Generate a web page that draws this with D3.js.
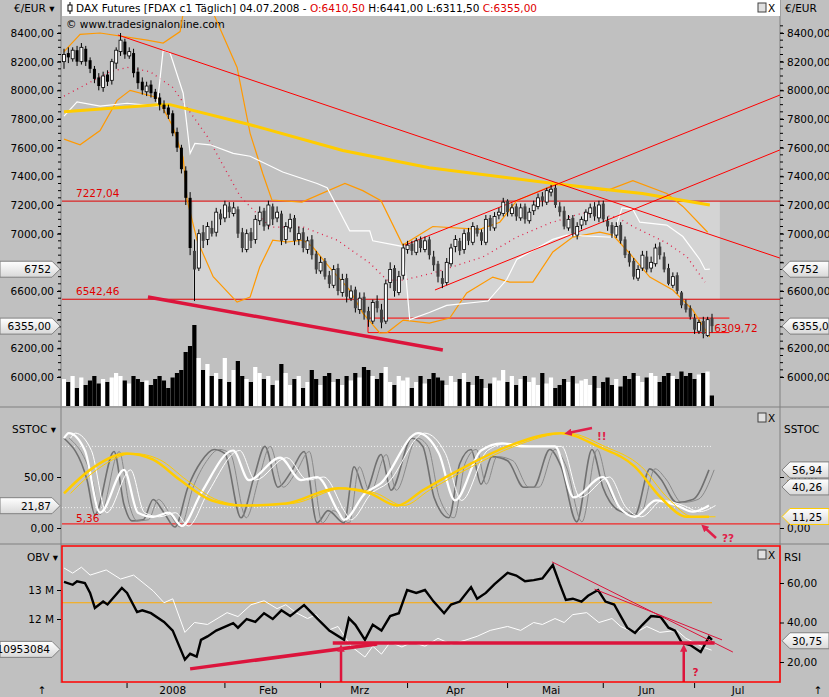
<!DOCTYPE html>
<html><head><meta charset="utf-8">
<script src="https://cdn.jsdelivr.net/npm/d3@7"></script>
<style>body{margin:0;background:#c0c0c0}svg{display:block}text{font-family:"DejaVu Sans",sans-serif;font-size:10.5px}</style>
</head><body><svg width="829" height="697"></svg>
<script>
// ---- data ----
var opens = [8200,8260,8220,8280,8200,8290,8210,8150,8090,8020, 8110,8070,8190,8270,8340,8240,8260,8130,8060,7990,
  8040,7990,7950,7900,7880,7840,7710,7600,7440,7250, 6880,6760,7010,6960,7040,7010,7140,7110,7190,7140,
  7170,7010,6890,7010,6960,7090,7160,7060,7190,7110, 7140,6960,7040,7110,6960,7010,6890,6960,6860,6740,
  6810,6710,6640,6760,6590,6690,6550,6610,6470,6560, 6460,6390,6530,6470,6390,6660,6760,6590,6710,6890,
  6930,6870,6960,6890,6960,6840,6790,6690,6660,6790, 6910,6950,6890,7010,6940,7040,7010,6940,7110,7040,
  7130,7140,7230,7140,7190,7110,7190,7090,7160,7190, 7260,7220,7290,7320,7190,7160,7040,7110,6990,7060,
  7090,7140,7190,7110,7210,7090,7060,6990,7060,6960, 6860,6810,6690,6760,6840,6760,6790,6910,6840,6760,
  6640,6710,6590,6510,6480,6410,6320,6390,6290,6410.5];
var highs = [8290,8300,8300,8310,8330,8310,8230,8170,8120,8130, 8140,8220,8300,8400,8360,8300,8290,8160,8090,8060,
  8070,8010,7980,7930,7900,7860,7740,7620,7470,7290, 6960,7030,7060,7080,7090,7180,7170,7230,7220,7220,
  7190,7040,7030,7040,7130,7190,7180,7230,7210,7190, 7160,7080,7140,7130,7050,7040,6980,6990,6880,6840,
  6830,6740,6780,6790,6720,6720,6640,6630,6590,6590, 6490,6540,6570,6510,6680,6800,6780,6740,6930,6950,
  6950,6970,6980,6980,6980,6880,6810,6740,6830,6930, 6990,6970,7030,7040,7080,7060,7030,7130,7130,7150,
  7180,7250,7240,7210,7210,7210,7210,7180,7230,7280, 7290,7320,7340,7340,7220,7190,7130,7130,7080,7120,
  7170,7210,7220,7230,7230,7120,7080,7080,7080,6980, 6880,6830,6780,6880,6880,6840,6930,6940,6870,6790,
  6730,6730,6600,6540,6500,6440,6400,6420,6420,6441];
var lows = [8150,8190,8200,8170,8180,8170,8120,8050,8000,7990, 8030,8040,8150,8240,8220,8220,8090,8010,7970,7960,
  7950,7920,7860,7840,7800,7680,7570,7420,7200,6850, 6530,6740,6900,6920,6980,6980,7060,7080,7110,7120,
  6970,6870,6870,6900,6930,7060,7020,7030,7060,7080, 6920,6930,7010,6920,6920,6870,6860,6820,6720,6720,
  6680,6620,6620,6570,6560,6520,6530,6450,6440,6400, 6350,6370,6450,6340,6370,6620,6560,6570,6680,6860,
  6850,6850,6870,6870,6820,6740,6660,6620,6640,6770, 6870,6850,6860,6920,6920,6980,6920,6920,7020,7020,
  7100,7120,7120,7120,7090,7090,7070,7070,7130,7170, 7190,7200,7260,7180,7120,7030,7020,6980,6960,7030,
  7060,7110,7090,7080,7080,7020,6970,6970,6930,6830, 6770,6680,6670,6740,6730,6730,6770,6820,6730,6640,
  6620,6580,6480,6450,6400,6300,6300,6270,6280,6311.5];
var closes = [8250,8230,8280,8200,8300,8200,8150,8080,8030,8100, 8060,8200,8280,8350,8250,8270,8120,8050,8000,8030,
  7980,7940,7900,7870,7830,7700,7600,7450,7250,6900, 6750,7000,6950,7050,7000,7150,7100,7200,7150,7180,
  7000,6900,7000,6950,7100,7150,7050,7200,7100,7150, 6950,7050,7100,6950,7000,6900,6950,6850,6750,6800,
  6700,6650,6750,6600,6680,6560,6600,6480,6550,6450, 6400,6520,6480,6380,6650,6750,6600,6700,6900,6920,
  6880,6950,6900,6950,6850,6780,6700,6650,6800,6900, 6960,6880,7000,6950,7050,7000,6950,7100,7050,7120,
  7150,7220,7150,7180,7120,7180,7100,7150,7200,7250, 7230,7300,7310,7200,7150,7050,7100,7000,7050,7100,
  7150,7180,7120,7200,7100,7050,7000,7050,6950,6850, 6800,6700,6750,6850,6750,6800,6900,6850,6750,6650,
  6700,6600,6500,6470,6420,6330,6380,6300,6400,6355];
var volumes = [90,80,100,60,95,70,85,100,75,90, 80,95,110,100,85,75,100,90,80,85, 70,90,100,85,60,95,110,120,180,200,
  270,160,120,140,100,110,90,160,80,120, 150,100,90,80,130,110,90,100,70,85, 140,110,70,90,100,60,80,120,90,70,
  100,110,80,90,70,100,85,110,95,130, 120,100,90,110,130,80,70,100,85,95, 60,80,100,75,90,110,95,85,70,100,
  80,90,110,80,70,100,90,60,75,95, 85,120,80,100,70,90,100,80,95,70, 110,75,95,60,70,90,80,100,75,85,
  90,70,100,60,80,95,70,90,65,100, 90,110,100,80,95,110,100,80,100,110, 100,90,115,100,110,90,105,110,115,35];

// indicator lines: [bar index, value]
var maSlow = [[0,7850],[21.6,7900],[24.4,7900],[42.8,7760],[64.1,7580],[84,7460],[112.6,7350],[127.1,7300],[133,7280],[148.5,7200]];
var bandUpper = [[0,8270],[3.7,8390],[8.3,8400],[19.1,8350],[22.8,8330],[26.7,8410],[28,8650],[30,8950],[32,8900],[34.3,8540],[39.8,8160],[42.8,7700],[45.7,7420],[47.8,7235],[54.7,7220],[64.6,7350],[68.7,7300],[72.9,7230],[77.9,6920],[84.8,7050],[95.6,7030],[100.2,7080],[104.1,7230],[113.3,7350],[124.8,7300],[130.8,7370],[138.6,7280],[142.3,7190],[148,7010]];
var bandLower = [[0,7660],[3.7,7620],[8.3,7720],[12.2,7930],[15.2,8000],[21.4,7950],[25,7750],[27.4,7530],[28.3,7235],[30.6,6955],[34.3,6700],[39.8,6523],[42.8,6558],[45,6767],[48,6955],[51.3,6942],[55,6955],[57.2,6907],[61,6767],[65.7,6607],[68.7,6446],[72.6,6307],[74.3,6310],[78,6397],[84,6376],[88.7,6411],[92.6,6586],[98.6,6697],[102.5,6662],[107.8,6662],[112.4,6872],[117,6976],[123.2,7011],[126.2,6990],[130,6865],[134.7,6697],[140,6607],[144.6,6467],[148.5,6279]];
var bandMid = [[0,7960],[10.6,8130],[14.5,8160],[19.8,8130],[25,8020],[32.9,7680],[40.5,7260],[47.4,7046],[55,7046],[62.8,6955],[70.3,6795],[74.3,6676],[78,6676],[84.8,6725],[96.3,6837],[104.1,6976],[111.7,7074],[119.3,7144],[127.1,7116],[130.8,7050],[138.6,6935],[143.2,6840],[147.4,6662]];
var lagLine = [[0,7820],[3,7920],[8.3,7890],[14.5,7910],[21.4,7890],[22.8,8280],[24.4,8260],[27.4,7980],[29,7560],[30.1,7630],[33.6,7620],[38.9,7560],[42.8,7540],[50.3,7430],[58.2,7350],[60.5,7320],[65.7,7020],[70.3,7020],[71,6950],[78,6910],[79.5,6400],[84,6450],[88,6500],[97.5,6530],[101.8,6680],[104.1,6820],[112.4,6960],[115.6,6990],[126.2,6975],[128.3,7180],[130.8,7170],[132.4,7080],[138.6,7060],[142.3,6980],[146.2,6820],[147.4,6750],[148.5,6752]];

var stochFast = [[0,88],[5.3,47],[7.1,13],[11.5,75],[13.8,23],[15.6,7],[18.2,8],[20.5,28],[23,15],[25.5,1],[28.5,40],[31.5,65],[34.5,77],[37,73],[40.7,10],[43.7,50],[46.2,80],[49.2,40],[52.2,55],[55.2,75],[58.2,5],[60.7,17],[64.4,5],[66.7,60],[69.2,35],[72.9,72],[75.2,37],[80,88],[82.5,80],[85.1,30],[88.5,10],[91,63],[93.6,77],[95.9,43],[98.4,70],[102,66],[105.7,40],[108,40],[111.7,77],[114.3,60],[117.9,6],[121.4,77],[123.9,40],[127.6,17],[131.3,13],[134.7,58],[137.2,48],[140.9,25],[144.6,28],[148.3,57]];
var stochSlow = [[0,88],[1.1,93],[4.8,76],[8.3,15],[13.8,57],[17,15],[20.5,11],[24.1,15],[27.1,2],[31.5,34],[38.9,76],[42.5,47],[49.7,69],[54.5,47],[58.2,50],[63.2,15],[64.4,8],[69.2,34],[72.9,44],[81.4,93],[86.2,73],[89.9,27],[95.9,76],[100.7,83],[105.7,80],[112.9,80],[117.2,30],[123.9,50],[127.6,21],[131.3,11],[136.1,27],[140.9,22],[144.6,16],[148.3,22]];
var stochSignal = [[0,34],[6,57],[14.5,73],[20.5,67],[26.7,47],[34,27],[41.1,22],[51,24],[63,39],[70.3,34],[76.6,22],[82.5,37],[92.2,60],[102,80],[114.3,93],[122.8,80],[131.3,60],[137.2,30],[143.2,11],[148.3,11]];
var rsiLine = [[0,67.6],[2,65],[4,68],[6,64],[9.7,66.6],[13,62],[16,64],[20.5,56],[23,50],[25,52],[27.8,35],[30,40],[33,39],[37.5,45],[40,43],[43,49],[46,51],[49,47],[51,49],[53.3,45],[56,42],[58,44],[60.7,36],[63,38],[66,28],[69.2,22.5],[71,28],[73,24],[75,30],[77.7,27.6],[80,30],[83,28],[86,32],[89,29],[92.2,31],[95,33],[98,36],[102,38],[105,36],[108,40],[110,39],[112.9,42],[115,40],[117,44],[120.2,45],[123,40],[126,42],[128,38],[131.3,34.7],[134,38],[137,35],[140.9,36],[143,32],[146.9,27.6],[148.9,26]];
var obvLine = [[0,13.28],[2,13.18],[3,13.3],[4.8,13.24],[6,12.9],[7.1,12.38],[9,12.6],[10,12.5],[13.3,13.07],[14.5,12.9],[16.8,12.24],[18,12.3],[20,12.2],[23,11.9],[25,11.6],[27.8,10.6],[29,10.8],[30.5,10.7],[31.5,11.28],[33,11.4],[35,11.6],[38.9,11.86],[40,11.7],[42,12.0],[44,11.9],[46,12.2],[48,12.0],[50,12.3],[52,12.1],[55.2,12.48],[57,12.2],[59,11.9],[61,11.6],[64.4,11.28],[65.5,12.03],[67,11.8],[69.2,11.28],[71,11.8],[73,11.6],[75,12.1],[77,12.2],[78.9,13.0],[81,12.9],[83,13.0],[85,12.6],[87.4,12.2],[89,12.5],[91,12.6],[93.6,13.1],[95,12.7],[97,12.9],[99,13.2],[102,13.59],[104,13.5],[106,13.3],[108,13.34],[110,13.4],[112.4,13.86],[114,13.2],[115.4,12.66],[117,12.7],[119,12.6],[120.5,12.8],[122.8,13.0],[124.5,12.6],[126.5,12.5],[128,12.1],[129.5,11.7],[131.3,11.52],[133,11.8],[135,12.1],[137.2,12.07],[139,11.7],[140.5,11.6],[142.1,11.17],[144,11.1],[146.4,10.86],[148.3,11.38],[149,11.28]];

var priceTicks = [6000,6200,6400,6600,6800,7000,7200,7400,7600,7800,8000,8200,8400];
var monthLabels = [["2008",25],["Feb",47],["Mrz",68],["Apr",90],["Mai",112],["Jun",134],["Jul",155]];
var monthTicks = [14.5,37,59,79,102,124,145];
var levelHigh = 7227.04, levelLow = 6542.46, supportTop = 6411, supportLow = 6309.72;

// ---- setup ----
var de = d3.formatLocale({decimal: ",", thousands: ".", grouping: [3], currency: ["", "€"]});
var f2 = de.format(".2f");
var svg = d3.select("svg");
var plotL = 62, plotR = 780;

var x = d3.scaleLinear().domain([0, 149]).range([64, 712]);
var yP = d3.scaleLinear().domain([6000, 8400]).range([377, 33]);
var yVol = d3.scaleLinear().domain([0, 270]).range([406, 325]);
var yS = d3.scaleLinear().domain([0, 100]).range([528, 426]);
var yRsi = d3.scaleLinear().domain([20, 60]).range([662, 583]);
var yObv = d3.scaleLinear().domain([12, 13]).range([619, 590]);

var defs = svg.append("defs");
defs.append("clipPath").attr("id", "cMain").append("rect").attr("x", plotL).attr("y", 16).attr("width", plotR - plotL).attr("height", 390);
defs.append("clipPath").attr("id", "cObv").append("rect").attr("x", plotL).attr("y", 546).attr("width", plotR - plotL).attr("height", 136);
var grad = defs.append("linearGradient").attr("id", "tag").attr("x1", 0).attr("x2", 0).attr("y1", 0).attr("y2", 1);
grad.append("stop").attr("offset", 0).attr("stop-color", "#ffffff");
grad.append("stop").attr("offset", 1).attr("stop-color", "#d8d8d8");
defs.append("marker").attr("id", "ah").attr("viewBox", "0 0 10 10").attr("refX", 5).attr("refY", 5)
  .attr("markerWidth", 3).attr("markerHeight", 3).attr("orient", "auto")
  .append("path").attr("d", "M0,0L10,5L0,10z").attr("fill", "#e0204a");

// panel separators
svg.append("line").attr("x1", 0).attr("x2", 829).attr("y1", 407).attr("y2", 407).attr("stroke", "#808080");
svg.append("line").attr("x1", 0).attr("x2", 829).attr("y1", 544).attr("y2", 544).attr("stroke", "#808080");
[plotL - 1, plotR].forEach(function (px) {
  svg.append("line").attr("x1", px).attr("x2", px).attr("y1", 0).attr("y2", 683).attr("stroke", "#808080");
});

// header
svg.append("rect").attr("x", plotL).attr("y", 0).attr("width", plotR - plotL).attr("height", 16).attr("fill", "#fff");
var hdr = svg.append("text").attr("x", 66).attr("y", 12).attr("font-size", "11px");
hdr.append("tspan").text("\u00A0\u00A0\u00A0DAX Futures [FDAX c1  Täglich] 04.07.2008 - ");
hdr.append("tspan").attr("fill", "#e00000").text("O:6410,50");
hdr.append("tspan").text(" H:6441,00 L:6311,50 ");
hdr.append("tspan").attr("fill", "#e00000").text("C:6355,00");
svg.append("line").attr("x1", 70).attr("x2", 70).attr("y1", 2).attr("y2", 14).attr("stroke", "#000");
svg.append("rect").attr("x", 68).attr("y", 5).attr("width", 4).attr("height", 6).attr("fill", "#fff").attr("stroke", "#000");
svg.append("text").attr("x", 14).attr("y", 12).attr("font-size", "11px").text("€/EUR ▾");
svg.append("text").attr("x", 785).attr("y", 12).attr("font-size", "11px").text("€/EUR");
svg.append("text").attr("x", 66).attr("y", 28).attr("font-size", "11px").text("© www.tradesignalonline.com");

// ---- main price panel ----
var main = svg.append("g").attr("clip-path", "url(#cMain)");
main.append("rect").attr("x", x(29.7)).attr("width", x(150.8) - x(29.7))
  .attr("y", yP(levelHigh)).attr("height", yP(levelLow) - yP(levelHigh)).attr("fill", "#d4d4d4");

var idx = d3.range(closes.length);
main.selectAll("rect.vol").data(idx).enter().append("rect").attr("class", "vol")
  .attr("x", function (i) { return x(i) - 2.2; }).attr("width", 4.2)
  .attr("y", function (i) { return yVol(volumes[i]); })
  .attr("height", function (i) { return yVol(0) - yVol(volumes[i]); })
  .attr("fill", function (i) { return closes[i] >= opens[i] ? "#fff" : "#000"; });

[levelHigh, levelLow].forEach(function (v) {
  main.append("line").attr("x1", plotL).attr("x2", plotR).attr("y1", yP(v)).attr("y2", yP(v)).attr("stroke", "#e00000");
});
main.append("path").attr("fill", "none").attr("stroke", "#ff0000")
  .attr("d", "M" + x(153) + "," + yP(supportTop) + "H" + x(69.9) + "V" + yP(supportLow) + "H" + x(153));
svg.append("text").attr("x", 76).attr("y", yP(levelHigh) - 4).attr("fill", "#e00000").text("7227,04");
svg.append("text").attr("x", 76).attr("y", yP(levelLow) - 4).attr("fill", "#e00000").text("6542,46");
svg.append("text").attr("x", x(149.5)).attr("y", yP(supportLow) - 1).attr("fill", "#e00000").text("6309,72");

function lineP(data, stroke, width, dash) {
  main.append("path").datum(data).attr("fill", "none").attr("stroke", stroke).attr("stroke-width", width)
    .attr("stroke-dasharray", dash || null)
    .attr("d", d3.line().x(function (d) { return x(d[0]); }).y(function (d) { return yP(d[1]); }));
}
lineP(bandUpper, "#ff9900", 1.2);
lineP(bandLower, "#ff9900", 1.2);
lineP(bandMid, "#e0204a", 1.3, "1,4");
lineP(lagLine, "#ffffff", 1.2);
lineP(maSlow, "#ffcc00", 3);
// trend lines
lineP([[12.4, 8386], [164.6, 6830]], "#ff0000", 1);
lineP([[78.4, 6920], [164.6, 7967]], "#ff0000", 1);
lineP([[85.3, 6607], [164.6, 7584]], "#ff0000", 1);
lineP([[19.3, 6558], [87.1, 6188]], "#dc143c", 3.5);

// candles
var cg = main.selectAll("g.c").data(idx).enter().append("g");
cg.append("line").attr("x1", function (i) { return x(i); }).attr("x2", function (i) { return x(i); })
  .attr("y1", function (i) { return yP(highs[i]); }).attr("y2", function (i) { return yP(lows[i]); })
  .attr("stroke", "#000");
cg.append("rect").attr("x", function (i) { return x(i) - 1.5; }).attr("width", 3)
  .attr("y", function (i) { return yP(Math.max(opens[i], closes[i])); })
  .attr("height", function (i) { return Math.max(1, Math.abs(yP(opens[i]) - yP(closes[i]))); })
  .attr("fill", function (i) { return closes[i] >= opens[i] ? "#fff" : (i > 29 ? "#404040" : "#000"); })
  .attr("stroke", function (i) { return closes[i] >= opens[i] ? "#000" : "none"; }).attr("stroke-width", 0.8);

// price axes
var axL = svg.append("g").attr("transform", "translate(" + (plotL - 1) + ",0)")
  .call(d3.axisLeft(yP).tickValues(priceTicks).tickFormat(f2).tickSize(4));
var axR = svg.append("g").attr("transform", "translate(" + plotR + ",0)")
  .call(d3.axisRight(yP).tickValues(priceTicks).tickFormat(f2).tickSize(4));
var minor = d3.range(6000, 8460, 50);
[[plotL - 1, -3], [plotR, 3]].forEach(function (a) {
  svg.append("g").selectAll("line").data(minor).enter().append("line")
    .attr("x1", a[0]).attr("x2", a[0] + a[1]).attr("y1", yP).attr("y2", yP).attr("stroke", "#000");
});
[axL, axR].forEach(function (g) {
  g.select(".domain").remove();
  g.selectAll("text").attr("font-size", "10px");
  // labels hidden behind the value tags
  g.selectAll(".tick").filter(function (d) { return d === 6400 || d === 6800; }).select("text").remove();
});

function tagRight(y, label, border) {
  var g = svg.append("g");
  g.append("path").attr("d", "M782," + y + "l8,-8h39v16h-39z").attr("fill", "url(#tag)").attr("stroke", border || "#808080");
  g.append("text").attr("x", 792).attr("y", y + 4).attr("font-size", "10px").text(label);
}
function tagLeft(y, label, w) {
  var g = svg.append("g");
  g.append("path").attr("d", "M60," + y + "l-8,-8h-" + (w - 8) + "v16h" + (w - 8) + "z").attr("fill", "url(#tag)").attr("stroke", "#808080");
  g.append("text").attr("x", 51).attr("y", y + 4).attr("text-anchor", "end").attr("font-size", "10px").text(label);
}
tagRight(yP(6752), "6752"); tagLeft(yP(6752), "6752", 60);
tagRight(yP(6355), "6355,00"); tagLeft(yP(6355), "6355,00", 60);

// ---- SSTOC panel ----
var sg = svg.append("g");
[20, 80].forEach(function (v) {
  sg.append("line").attr("x1", plotL).attr("x2", 712).attr("y1", yS(v)).attr("y2", yS(v))
    .attr("stroke", "#f0f0f0").attr("stroke-dasharray", "1,2");
});
sg.append("line").attr("x1", plotL).attr("x2", plotR).attr("y1", yS(4)).attr("y2", yS(4)).attr("stroke", "#ff0000");
function lineS(data, stroke, width, shift) {
  sg.append("path").datum(data).attr("fill", "none").attr("stroke", stroke).attr("stroke-width", width)
    .attr("d", d3.line().curve(d3.curveMonotoneX).x(function (d) { return x(d[0] + (shift || 0)); }).y(function (d) { return yS(d[1]); }));
}
lineS(stochFast, "#707070", 1.6);
lineS(stochFast, "#8a8a8a", 1, 1.2);
lineS(stochSlow, "#ffffff", 1, 1.5);
lineS(stochSlow, "#ffffff", 2.2);
lineS(stochSignal, "#ffcc00", 1, 1.5);
lineS(stochSignal, "#ffcc00", 2.5);
var sAx = [d3.axisLeft(yS), d3.axisRight(yS)].map(function (a, k) {
  return svg.append("g").attr("transform", "translate(" + (k ? plotR : plotL - 1) + ",0)")
    .call(a.tickValues([0, 50]).tickFormat(f2).tickSize(4));
});
sAx.forEach(function (g) { g.select(".domain").remove(); g.selectAll("text").attr("font-size", "10px"); });
svg.append("text").attr("x", 12).attr("y", 433).attr("font-size", "10px").text("SSTOC ▾");
svg.append("text").attr("x", 784).attr("y", 433).attr("font-size", "10px").text("SSTOC");
svg.append("text").attr("x", 76).attr("y", yS(4) - 2).attr("fill", "#e00000").text("5,36");
tagRight(yS(56.94), "56,94"); tagRight(yS(40.26), "40,26"); tagRight(yS(11.25), "11,25", "#ffcc00");
tagLeft(yS(21.87), "21,87", 60);
sg.append("text").attr("x", 597).attr("y", 440).attr("fill", "#e0204a").attr("font-size", "17px").attr("font-weight", "bold").text("!!");
sg.append("path").attr("d", "M592,428 L568,433").attr("stroke", "#e0204a").attr("stroke-width", 2.5).attr("marker-end", "url(#ah)");
sg.append("text").attr("x", 722).attr("y", 542).attr("fill", "#e0204a").attr("font-size", "17px").attr("font-weight", "bold").text("??");
sg.append("path").attr("d", "M716,538 L704,527").attr("stroke", "#e0204a").attr("stroke-width", 2.5).attr("marker-end", "url(#ah)");

// ---- OBV / RSI panel ----
var og = svg.append("g").attr("clip-path", "url(#cObv)");
og.append("line").attr("x1", plotL).attr("x2", 712).attr("y1", yRsi(50)).attr("y2", yRsi(50)).attr("stroke", "#ffaa00").attr("stroke-width", 1.2);
og.append("path").datum(rsiLine).attr("fill", "none").attr("stroke", "#ffffff").attr("stroke-width", 1)
  .attr("d", d3.line().x(function (d) { return x(d[0]); }).y(function (d) { return yRsi(d[1]); }));
og.append("path").datum(obvLine).attr("fill", "none").attr("stroke", "#000").attr("stroke-width", 2.4)
  .attr("d", d3.line().x(function (d) { return x(d[0]); }).y(function (d) { return yObv(d[1]); }));
function lineO(data, width) {
  og.append("path").datum(data).attr("fill", "none").attr("stroke", "#dc143c").attr("stroke-width", width)
    .attr("d", d3.line().x(function (d) { return x(d[0]); }).y(function (d) { return yObv(d[1]); }));
}
lineO([[29, 10.28], [72, 11.14]], 3.5);
lineO([[61.8, 11.17], [149.6, 11.17]], 3.5);
lineO([[112.2, 13.97], [153.8, 10.86]], 1);
lineO([[122, 13.03], [151.3, 11.28]], 1);
[63.7, 142.5].forEach(function (i) {
  og.append("line").attr("x1", x(i)).attr("x2", x(i)).attr("y1", 682).attr("y2", yObv(11.0))
    .attr("stroke", "#dc143c").attr("stroke-width", 2.5).attr("marker-end", "url(#ah)");
});
og.append("text").attr("x", x(144.5)).attr("y", 676).attr("fill", "#dc143c").attr("font-size", "20px").attr("font-weight", "bold").text("?");
svg.append("rect").attr("x", plotL).attr("y", 546).attr("width", plotR - plotL).attr("height", 136)
  .attr("fill", "none").attr("stroke", "#ff0000").attr("stroke-width", 1.5);
var oAx = svg.append("g").attr("transform", "translate(" + (plotL - 1) + ",0)")
  .call(d3.axisLeft(yObv).tickValues([12, 13]).tickFormat(function (d) { return d + " M"; }).tickSize(4));
var rAx = svg.append("g").attr("transform", "translate(" + plotR + ",0)")
  .call(d3.axisRight(yRsi).tickValues([20, 40, 60]).tickFormat(f2).tickSize(4));
[oAx, rAx].forEach(function (g) { g.select(".domain").remove(); g.selectAll("text").attr("font-size", "10px"); });
svg.append("text").attr("x", 27).attr("y", 561).attr("font-size", "10px").text("OBV ▾");
svg.append("text").attr("x", 784).attr("y", 561).attr("font-size", "10px").text("RSI");
tagRight(yRsi(30.75), "30,75");
var ot = svg.append("g");
ot.append("path").attr("d", "M60," + yObv(10.953084) + "l-8,-8h-52v16h52z").attr("fill", "url(#tag)").attr("stroke", "#808080");
ot.append("text").attr("x", 50).attr("y", yObv(10.953084) + 4).attr("text-anchor", "end").attr("font-size", "9.5px").text("10953084");

// window icons
[418, 555, 8].forEach(function (y) {
  svg.append("rect").attr("x", 758).attr("y", y - 5).attr("width", 8).attr("height", 9).attr("fill", "#e0e0e0").attr("stroke", "#404040");
  svg.append("text").attr("x", 768).attr("y", y + 4).attr("font-size", "10px").text("X");
});

// ---- time axis ----
svg.append("g").selectAll("line").data(monthTicks).enter().append("line")
  .attr("x1", x).attr("x2", x).attr("y1", 683).attr("y2", 688).attr("stroke", "#000");
svg.append("g").selectAll("text").data(monthLabels).enter().append("text")
  .attr("x", function (d) { return x(d[1]); }).attr("y", 694).attr("text-anchor", "middle").text(function (d) { return d[0]; });
svg.append("text").attr("x", 42).attr("y", 694).attr("text-anchor", "middle").text("↑");
svg.append("text").attr("x", 818).attr("y", 694).attr("text-anchor", "middle").text("↑");
</script></body></html>
